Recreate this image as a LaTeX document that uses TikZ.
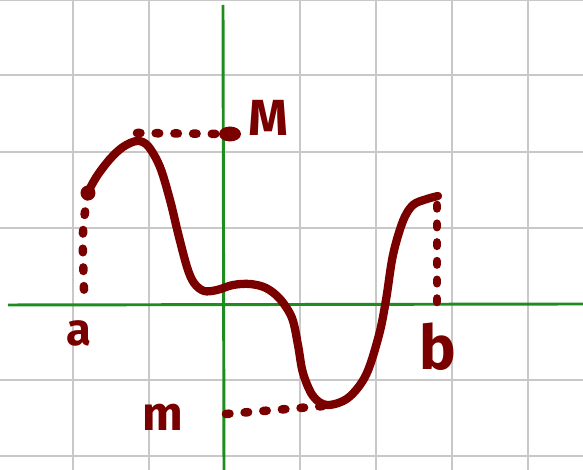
\documentclass[tikz,border=0pt]{standalone}
\usepackage{fontspec}
\newfontfamily\handfont{Fira Sans}
\definecolor{ink}{RGB}{122,0,0}
\definecolor{axisgreen}{RGB}{30,140,30}
\definecolor{gridgray}{RGB}{200,200,200}
\tikzset{
  gridline/.style={draw=gridgray, line width=0.55pt},
  axisline/.style={draw=axisgreen, line width=1.1pt},
  curveline/.style={draw=ink, line width=3.1pt, line cap=round, line join=round},
  dotline/.style={draw=ink, line width=3.2pt, line cap=round, dash pattern=on 1.3pt off 5.7pt},
  lab/.style={text=ink, inner sep=0pt},
  bigdot/.style={fill=ink, draw=none}
}
\begin{document}
\begin{tikzpicture}[x=0.013158cm, y=-0.013158cm]
\useasboundingbox (0,0) rectangle (583,470);
% grid
\foreach \gx in {73,149,300,376,452,528} \draw[gridline] (\gx,0) -- (\gx,470);
\foreach \gy in {0,75,152,228,380,456} \draw[gridline] (0,\gy) -- (583,\gy);
% axes
\draw[axisline] (8,305) -- (583,304);
\draw[axisline] (223,5) -- (224,470);
% key points
\coordinate (A) at (88,193);
\coordinate (Abase) at (84,290);
\coordinate (Peak) at (137,133);
\coordinate (Mdot) at (222,134);
\coordinate (Mleft) at (226,414);
\coordinate (Min) at (324,406);
\coordinate (B) at (437,205);
\coordinate (Bbase) at (437,304);
% curve
\draw[curveline] plot[smooth, tension=0.55] coordinates {
 (88,192) (97,176) (110,159) (123,147) (137,141) (148,146) (160,167) (170,200)
 (178,233) (187,267) (194,283) (204,291) (217,290) (233,285) (250,284) (266,288)
 (280,299) (292,318) (298,345) (303,373) (313,396) (327,405) (348,398) (366,375)
 (379,335) (386,300) (393,255) (403,221) (413,205) (427,199) (438,196)};
% dots
\fill[bigdot] (A) circle (7.5);
\fill[bigdot] (230,134) ellipse (11 and 7.5);
\draw[dotline] (A) .. controls (82,230) .. (Abase);
\draw[dotline] (Peak) -- (Mdot);
\draw[dotline] (Mleft) -- (Min);
\draw[dotline] (B) -- (Bbase);
% labels
\node[lab, font=\handfont\bfseries\fontsize{17pt}{17pt}\selectfont] (la) at (79,333) {a};
\node[lab, font=\handfont\bfseries\fontsize{19pt}{19pt}\selectfont] (lM) at (268,118) {M};
\node[lab, font=\handfont\bfseries\fontsize{18pt}{18pt}\selectfont] (lm) at (163,417) {m};
\node[lab, font=\handfont\bfseries\fontsize{23pt}{23pt}\selectfont] (lb) at (438,347) {b};
\end{tikzpicture}
\end{document}
